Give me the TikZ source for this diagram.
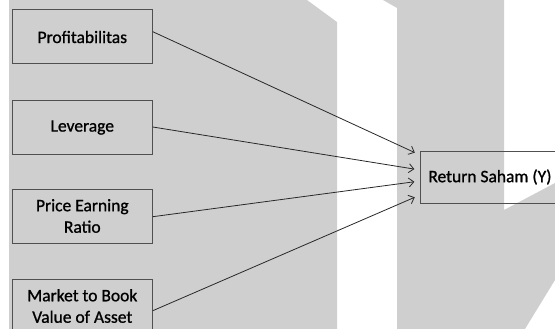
\documentclass[tikz,border=0pt]{standalone}
\usepackage{fontspec}
\setmainfont{Carlito}[FakeBold=1]
\usetikzlibrary{arrows.meta}
\definecolor{wm}{RGB}{207,207,207}
\definecolor{boxline}{RGB}{80,80,80}
\definecolor{arr}{RGB}{40,40,40}
\tikzset{
  txt/.style={text=black, font=\fontsize{17.5}{21.5}\selectfont},
  varbox/.style={draw=boxline, line width=1pt, minimum width=140pt, minimum height=54pt,
    inner sep=0pt, align=center, txt},
  resbox/.style={draw=boxline, line width=0.9pt, minimum width=139pt, minimum height=52pt,
    inner sep=0pt, align=center, txt},
  link/.style={draw=arr, line width=0.8pt, -{Straight Barb[length=5pt,width=9pt]}, shorten >=5.7pt}
}
\begin{document}
\begin{tikzpicture}[x=1pt,y=-1pt]
\useasboundingbox (0,0) rectangle (555,329);
\clip (0,0) rectangle (555,329);
% watermark shapes
\fill[wm] (9,0) -- (307,0) -- (337,22) -- (337,329) -- (9,329) -- cycle;
\fill[wm] (383,0) -- (504,0) -- (504,210) -- (555,183) -- (555,280) -- (525,329) -- (397,329) -- (397,8) -- cycle;
% nodes
\node[varbox] (b1) at (82.3,37) {Profitabilitas};
\node[varbox] (b2) at (82.3,127.5) {Leverage};
\node[varbox] (b3) at (82.3,216) {Price Earning\\Ratio};
\node[varbox] (b4) at (82.3,306) {Market to Book\\Value of Asset};
\node[resbox, anchor=west] (r) at (420,177) {Return Saham (Y)};
% connectors
\draw[link] ([yshift=5.3pt]b1.east) -- ([yshift=22pt]r.west);
\draw[link] ([yshift=0.5pt]b2.east) -- ([yshift=7pt]r.west);
\draw[link] ([yshift=-0.7pt]b3.east) -- ([yshift=-4pt]r.west);
\draw[link] ([yshift=-4.7pt]b4.east) -- ([yshift=-18pt]r.west);
\end{tikzpicture}
\end{document}
